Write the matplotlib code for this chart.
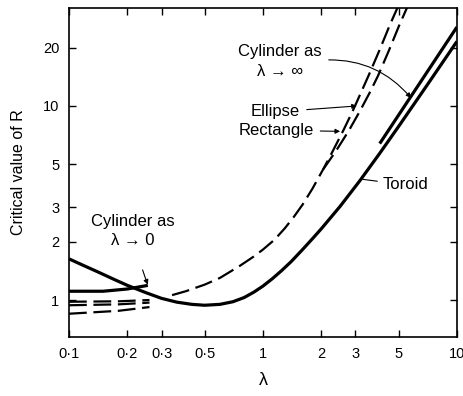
import matplotlib
matplotlib.use("Agg")
import matplotlib.pyplot as plt

plt.rcParams['font.family'] = ['Liberation Sans', 'DejaVu Sans']

# toroid (solid)
toroid_lam = [0.1, 0.12, 0.14, 0.17, 0.2, 0.25, 0.3, 0.36, 0.43, 0.5, 0.6, 0.7, 0.8, 0.9,
              1.0, 1.12, 1.25, 1.4, 1.6, 1.8, 2.0, 2.5, 3.16, 4.0, 5.0, 7.0, 10.0]
toroid_R = [1.63, 1.5, 1.4, 1.28, 1.19, 1.09, 1.02, 0.975, 0.95, 0.94, 0.95, 0.98, 1.03, 1.1,
            1.18, 1.29, 1.42, 1.58, 1.82, 2.07, 2.33, 3.04, 4.12, 5.7, 7.83, 12.75, 21.5]

# cylinder asymptotes (solid)
cyl0_lam = [0.1, 0.15, 0.2, 0.255]
cyl0_R = [1.11, 1.11, 1.14, 1.19]
cylinf_lam = [4.0, 6.0, 10.0]
cylinf_R = [6.4, 11.8, 25.5]

# ellipse / rectangle (dashed)
ellipse_lam = [0.34, 0.4, 0.5, 0.6, 0.76, 0.9, 1.0, 1.15, 1.3, 1.45, 1.6, 1.8, 2.04,
               2.3, 2.6, 2.9, 3.2, 3.5, 4.0, 4.5, 5.0, 5.5]
ellipse_R = [1.06, 1.11, 1.2, 1.3, 1.5, 1.68, 1.82, 2.05, 2.35, 2.7, 3.1, 3.75, 4.7,
             5.9, 7.5, 9.4, 11.7, 14.3, 19.5, 26, 33, 41]
rect_lam = [2.04, 2.39, 2.78, 3.16, 3.55, 3.92, 4.48, 5.04, 5.6, 6.16]
rect_R = [4.7, 5.9, 7.5, 9.4, 11.7, 14.3, 19.5, 26, 33, 41]

# small-lambda dashed branches
low_lam = [0.1, 0.18, 0.26]
low_R1 = [0.98, 0.985, 1.0]
low_R2 = [0.94, 0.95, 0.97]
low_R3 = [0.85, 0.88, 0.92]

xticks = [0.1, 0.2, 0.3, 0.5, 1, 2, 3, 5, 10]
xticklabels = ['0·1', '0·2', '0·3', '0·5', '1', '2', '3', '5', '10']
yticks = [1, 2, 3, 5, 10, 20]
yticklabels = ['1', '2', '3', '5', '10', '20']

fig = plt.figure(figsize=(4.64, 3.96), dpi=100)
ax = fig.add_axes([0.1487, 0.149, 0.836, 0.831])

dash = (0, (8, 3))
ax.plot(toroid_lam, toroid_R, c='k', lw=2.3, solid_capstyle='butt')
ax.plot(cyl0_lam, cyl0_R, c='k', lw=2.3, solid_capstyle='butt')
ax.plot(cylinf_lam, cylinf_R, c='k', lw=2.3, solid_capstyle='butt')
ax.plot(ellipse_lam, ellipse_R, c='k', lw=1.6, linestyle=dash)
ax.plot(rect_lam, rect_R, c='k', lw=1.6, linestyle=dash)
for r in (low_R1, low_R2, low_R3):
    ax.plot(low_lam, r, c='k', lw=1.6, linestyle=dash)

ax.set_xscale('log')
ax.set_yscale('log')
ax.set_xlim(0.1, 10)
ax.set_ylim(0.645, 32)
ax.set_xticks(xticks)
ax.set_xticklabels(xticklabels)
ax.set_yticks(yticks)
ax.set_yticklabels(yticklabels)
ax.minorticks_off()
ax.tick_params(direction='in', length=5, width=1, labelsize=10.5,
               top=True, right=True, pad=7)
for s in ax.spines.values():
    s.set_linewidth(1.2)

ax.set_xlabel('λ', fontsize=13, labelpad=8)
ax.set_ylabel('Critical value of R', fontsize=11.5, labelpad=12)

arr = dict(arrowstyle='-|>', color='k', lw=0.8, mutation_scale=7)
ax.annotate('Cylinder as\nλ → 0', xy=(0.255, 1.2), xytext=(0.165, 0.322),
            textcoords='axes fraction', ha='center', va='center',
            fontsize=12, linespacing=1.4,
            arrowprops=dict(arr, shrinkA=14, shrinkB=0, connectionstyle='arc3,rad=0.05'))
ax.annotate('Cylinder as\nλ → ∞', xy=(5.8, 11.0), xytext=(0.544, 0.836),
            textcoords='axes fraction', ha='center', va='center',
            fontsize=12, linespacing=1.4,
            arrowprops=dict(arr, shrinkA=3, shrinkB=0, relpos=(1.0, 0.55),
                            connectionstyle='arc3,rad=-0.25'))
ax.annotate('Ellipse', xy=(3.05, 10.0), xytext=(0.595, 0.684),
            textcoords='axes fraction', ha='right', va='center', fontsize=12,
            arrowprops=dict(arr, shrinkA=3, shrinkB=0))
ax.annotate('Rectangle', xy=(2.5, 7.4), xytext=(0.63, 0.628),
            textcoords='axes fraction', ha='right', va='center', fontsize=12,
            arrowprops=dict(arr, shrinkA=3, shrinkB=0))
ax.annotate('Toroid', xy=(3.2, 4.2), xytext=(0.809, 0.462),
            textcoords='axes fraction', ha='left', va='center', fontsize=12,
            arrowprops=dict(arrowstyle='-', color='k', lw=0.8, shrinkA=2, shrinkB=0))

fig.savefig('out.png', dpi=100)
